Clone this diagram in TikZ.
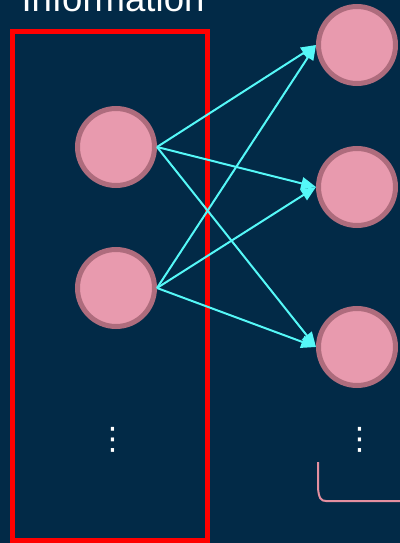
\documentclass[tikz,border=0pt]{standalone}
\usepackage{fontspec}
\setmainfont{Liberation Sans}
\newfontfamily\dotsfont{DejaVu Sans}
\usepackage{tikz}
\usetikzlibrary{arrows.meta}
\definecolor{NavyBg}{HTML}{022A47}
\definecolor{NeuronFill}{HTML}{E89AAE}
\definecolor{NeuronRim}{HTML}{AE6C7D}
\definecolor{LinkCyan}{HTML}{55F8F8}
\definecolor{BracePink}{HTML}{E48FA0}

\begin{document}
\begin{tikzpicture}[
  neuron/.style={circle,draw=NeuronRim,line width=0.125cm,fill=NeuronFill,minimum size=1.925cm,inner sep=0pt},
  link/.style={-{Triangle[length=3.7mm,width=3.1mm]},line width=0.05cm,draw=LinkCyan},
  vdotsnode/.style={font=\dotsfont\fontsize{22}{22}\selectfont,text=white,inner sep=0pt}
]
\fill[NavyBg] (0,0) rectangle (10,-13.575);
\useasboundingbox (0,0) rectangle (10,-13.575);

\node[anchor=base,text=white,font=\fontsize{26}{26}\selectfont] (title) at (2.825,-0.3) {Information};
\node[draw=red,line width=0.125cm,minimum width=4.875cm,minimum height=12.7125cm,inner sep=0pt] (inbox) at (2.75,-7.14375) {};

\node[neuron] (in1) at (2.9,-3.675) {};
\node[neuron] (in2) at (2.9,-7.2) {};
\node[vdotsnode] (indots) at (2.825,-10.99) {⋮};

\node[neuron] (h1) at (8.925,-1.125) {};
\node[neuron] (h2) at (8.925,-4.675) {};
\node[neuron] (h3) at (8.925,-8.675) {};
\node[vdotsnode] (hdots) at (9.0,-10.99) {⋮};

\foreach \i in {in1,in2}
  \foreach \h in {h1,h2,h3}
    \draw[link] (\i.east) -- (\h.west);

\coordinate (braceTop) at (7.95,-11.55);
\coordinate (braceEnd) at (10.1,-12.525);
\draw[BracePink,line width=0.05cm] (braceTop) -- (7.95,-12.2) .. controls (7.97,-12.45) and (8.02,-12.525) .. (8.15,-12.525) -- (braceEnd);
\end{tikzpicture}
\end{document}
